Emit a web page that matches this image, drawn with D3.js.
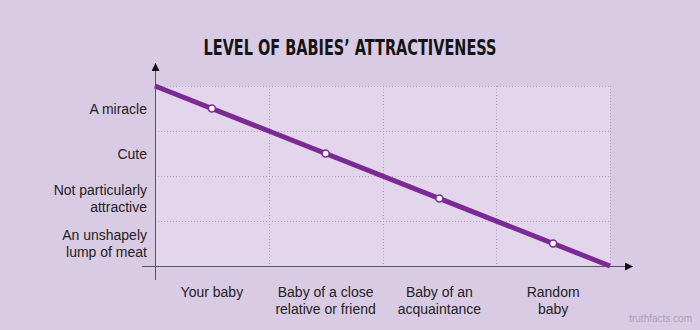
<!DOCTYPE html>
<html>
<head>
<meta charset="utf-8">
<script src="https://cdn.jsdelivr.net/npm/d3@7"></script>
<style>
  body { margin: 0; background: #dacbe5; }
  svg { display: block; }
</style>
</head>
<body>
<svg id="chart" width="700" height="330"></svg>
<script>
// Chart data
const categories = ['Your baby', 'Baby of a close|relative or friend', 'Baby of an|acquaintance', 'Random|baby'];
const levels = ['An unshapely|lump of meat', 'Not particularly|attractive', 'Cute', 'A miracle'];
// level index of each category (0 = lowest band), point sits at band centre
const values = [3, 2, 1, 0];
// the trend line runs from the top-left corner to the bottom-right corner
const trendX = [0, 4];
const trendY = [4, 0];

const svg = d3.select('#chart');
const margin = { left: 155, right: 90, top: 86, bottom: 64 };
const W = 700, H = 330;
const plotW = W - margin.left - margin.right;
const plotH = H - margin.top - margin.bottom;

const x = d3.scaleLinear().domain([0, categories.length]).range([margin.left, margin.left + plotW]);
const y = d3.scaleLinear().domain([0, levels.length]).range([margin.top + plotH, margin.top]);

// Title
svg.append('text')
    .attr('x', 350).attr('y', 55)
    .attr('text-anchor', 'middle')
    .attr('font-family', '"DejaVu Sans Condensed", "DejaVu Sans", sans-serif')
    .attr('font-stretch', 'condensed')
    .attr('font-weight', 'bold')
    .attr('font-size', 21)
    .attr('fill', '#141414')
    .attr('textLength', 293)
    .attr('lengthAdjust', 'spacingAndGlyphs')
    .text('LEVEL OF BABIES\u2019 ATTRACTIVENESS');

// Plot background
svg.append('rect')
    .attr('x', x(0)).attr('y', y(levels.length))
    .attr('width', x(categories.length) - x(0))
    .attr('height', y(0) - y(levels.length))
    .attr('fill', '#e2d5ec');

// Grid
const grid = svg.append('g')
    .attr('stroke', '#b0a2bc')
    .attr('stroke-width', 1)
    .attr('stroke-dasharray', '1,2');
d3.range(1, levels.length + 1).forEach(i => {
    grid.append('line')
        .attr('x1', x(0)).attr('x2', x(categories.length))
        .attr('y1', Math.round(y(i)) + 0.5).attr('y2', Math.round(y(i)) + 0.5);
});
d3.range(1, categories.length + 1).forEach(i => {
    grid.append('line')
        .attr('x1', Math.round(x(i)) + 0.5).attr('x2', Math.round(x(i)) + 0.5)
        .attr('y1', y(levels.length)).attr('y2', y(0));
});

// Axes with arrowheads
const defs = svg.append('defs');
defs.append('marker')
    .attr('id', 'arrow')
    .attr('viewBox', '0 0 10 10')
    .attr('refX', 10).attr('refY', 5)
    .attr('markerWidth', 10).attr('markerHeight', 8)
    .attr('markerUnits', 'userSpaceOnUse')
    .attr('orient', 'auto')
    .append('path')
    .attr('d', 'M0,0 L10,5 L0,10 Z')
    .attr('fill', '#111');

svg.append('line')
    .attr('x1', 142).attr('x2', 633)
    .attr('y1', y(0) + 0.5).attr('y2', y(0) + 0.5)
    .attr('stroke', '#555').attr('stroke-width', 1)
    .attr('marker-end', 'url(#arrow)');

svg.append('line')
    .attr('x1', x(0) + 0.5).attr('x2', x(0) + 0.5)
    .attr('y1', 280).attr('y2', 63)
    .attr('stroke', '#555').attr('stroke-width', 1)
    .attr('marker-end', 'url(#arrow)');

// Y labels (band centres)
const labelFont = '"Liberation Sans", Arial, sans-serif';
levels.forEach((lab, i) => {
    const lines = lab.split('|');
    const cy = y(i + 0.5);
    const t = svg.append('text')
        .attr('text-anchor', 'end')
        .attr('font-family', labelFont)
        .attr('font-size', 14)
        .attr('fill', '#222');
    lines.forEach((ln, j) => {
        t.append('tspan')
            .attr('x', 147)
            .attr('y', cy + 5 + (j - (lines.length - 1) / 2) * 17)
            .text(ln);
    });
});

// X labels
categories.forEach((lab, i) => {
    const lines = lab.split('|');
    const t = svg.append('text')
        .attr('text-anchor', 'middle')
        .attr('font-family', labelFont)
        .attr('font-size', 14)
        .attr('fill', '#222');
    lines.forEach((ln, j) => {
        t.append('tspan')
            .attr('x', x(i + 0.5))
            .attr('y', 297 + j * 17)
            .text(ln);
    });
});

// Trend line
const line = d3.line().x(d => x(d[0])).y(d => y(d[1]));
svg.append('path')
    .datum(trendX.map((v, i) => [v, trendY[i]]))
    .attr('d', line)
    .attr('fill', 'none')
    .attr('stroke', '#7a2a92')
    .attr('stroke-width', 5);

// Points
svg.selectAll('.pt')
    .data(values)
    .enter()
    .append('circle')
    .attr('class', 'pt')
    .attr('cx', (d, i) => x(i + 0.5))
    .attr('cy', d => y(d + 0.5))
    .attr('r', 3.5)
    .attr('fill', '#fff')
    .attr('stroke', '#7a2a92')
    .attr('stroke-width', 1.5);

// Watermark
svg.append('text')
    .attr('x', 692).attr('y', 322)
    .attr('text-anchor', 'end')
    .attr('font-family', labelFont)
    .attr('font-size', 10)
    .attr('fill', '#aa9cb8')
    .text('truthfacts.com');
</script>
</body>
</html>
